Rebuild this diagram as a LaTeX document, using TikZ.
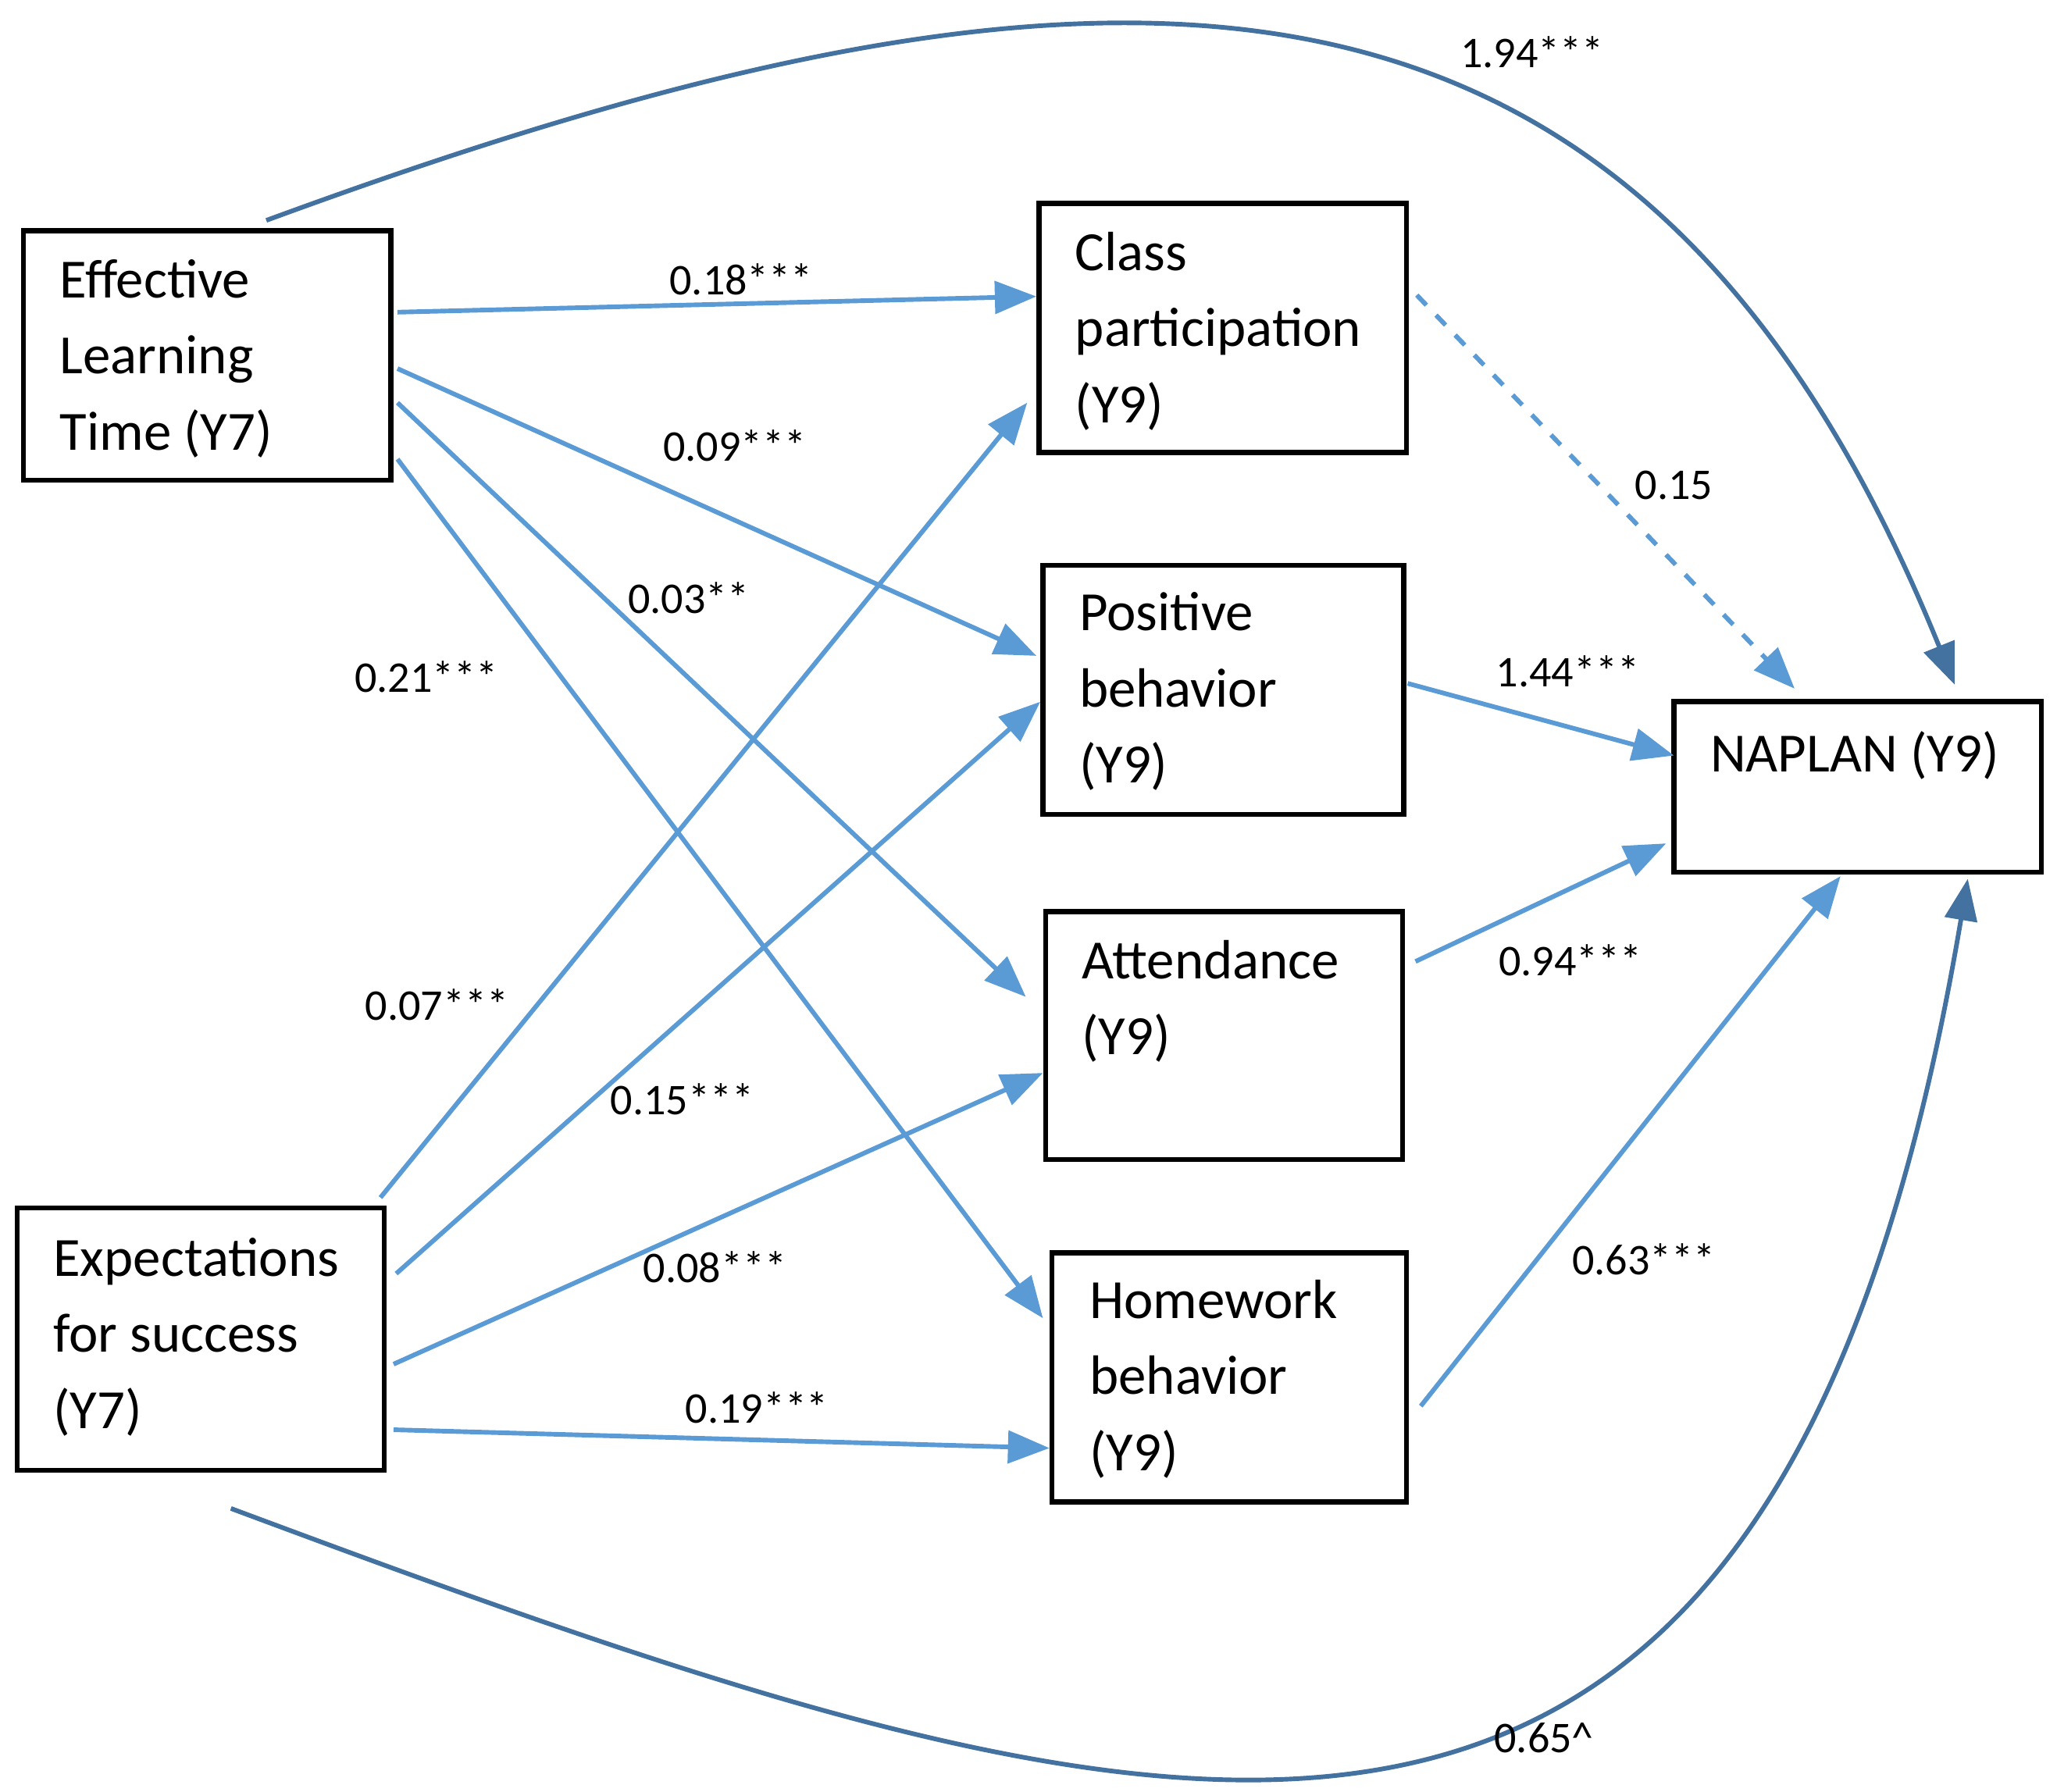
\documentclass[tikz,border=0pt]{standalone}
\usepackage{fontspec}
\setmainfont{Carlito}
\usetikzlibrary{arrows.meta}
\definecolor{lb}{RGB}{91,155,213}
\definecolor{db}{RGB}{68,114,160}
\begin{document}
\begin{tikzpicture}[x=0.01cm,y=-0.01cm,
  txt/.style={anchor=north west,align=left,font=\fontsize{12}{16.5}\selectfont,inner sep=0pt},
  ar/.style={lb,line width=1pt,-{Triangle[length=9pt,width=7pt]}},
  lab/.style={font=\fontsize{9.5}{11}\selectfont,inner sep=0pt}]
\useasboundingbox (0,0) rectangle (1568,1366);
% boxes
\draw[line width=1.1pt] (18,176) rectangle (298,366);
\draw[line width=1.1pt] (13,921) rectangle (293,1121);
\draw[line width=1.1pt] (792,155) rectangle (1072,345);
\draw[line width=1.1pt] (795,431) rectangle (1070,621);
\draw[line width=1.1pt] (797,695) rectangle (1069,884);
\draw[line width=1.1pt] (802,955) rectangle (1072,1145);
\draw[line width=1.1pt] (1276,535) rectangle (1556,665);
\node[txt] (elt) at (45,197) {Effective\\Learning\\Time (Y7)};
\node[txt] (es) at (40,943) {Expectations\\for success\\(Y7)};
\node[txt] (cp) at (819,176) {Class\\participation\\(Y9)};
\node[txt] (pb) at (822,451) {Positive\\behavior\\(Y9)};
\node[txt] (at) at (824,716) {Attendance\\(Y9)};
\node[txt] (hb) at (830,975) {Homework\\behavior\\(Y9)};
\node[txt] (np) at (1303,557) {NAPLAN (Y9)};
% endpoints
\coordinate (e1) at (303,238); \coordinate (e2) at (303,281);
\coordinate (e3) at (303,307); \coordinate (e4) at (303,350);
\coordinate (s1) at (290,913); \coordinate (s2) at (302,971);
\coordinate (s3) at (300,1040); \coordinate (s4) at (300,1090);
\coordinate (cpA) at (790,226); \coordinate (cpB) at (783,307);
\coordinate (pbA) at (790,500); \coordinate (pbB) at (793,535);
\coordinate (atA) at (782,760); \coordinate (atB) at (795,818);
\coordinate (hbA) at (795,1005); \coordinate (hbB) at (800,1104);
\coordinate (cpo) at (1080,225); \coordinate (pbo) at (1073,521);
\coordinate (ato) at (1079,733); \coordinate (hbo) at (1083,1072);
\coordinate (n1) at (1368,525); \coordinate (n2) at (1276,576);
\coordinate (n3) at (1270,643); \coordinate (n4) at (1403,668);
\coordinate (topS) at (203,168); \coordinate (topE) at (1490,522);
\coordinate (botS) at (176,1150); \coordinate (botE) at (1500,670);
\draw[ar] (e1) -- (cpA); \draw[ar] (e2) -- (pbA);
\draw[ar] (e3) -- (atA); \draw[ar] (e4) -- (hbA);
\draw[ar] (s1) -- (cpB); \draw[ar] (s2) -- (pbB);
\draw[ar] (s3) -- (atB); \draw[ar] (s4) -- (hbB);
\draw[ar,dashed] (cpo) -- (n1);
\draw[ar] (pbo) -- (n2); \draw[ar] (ato) -- (n3); \draw[ar] (hbo) -- (n4);
\draw[ar,db] (topS) .. controls (850,-70) and (1250,-70) .. (topE);
\draw[ar,db] (botS) .. controls (900,1420) and (1350,1560) .. (botE);
% labels
\node[lab] (l1) at (565,213) {0.18***};
\node[lab] (l2) at (560,340) {0.09***};
\node[lab] (l3) at (525,456) {0.03**};
\node[lab] (l4) at (325,516) {0.21***};
\node[lab] (l5) at (333,766) {0.07***};
\node[lab] (l6) at (520,838) {0.15***};
\node[lab] (l7) at (545,966) {0.08***};
\node[lab] (l8) at (577,1073) {0.19***};
\node[lab] (l9) at (1276,370) {0.15};
\node[lab] (l10) at (1195,512) {1.44***};
\node[lab] (l11) at (1197,732) {0.94***};
\node[lab] (l12) at (1253,960) {0.63***};
\node[lab] (l13) at (1168,40) {1.94***};
\node[lab] (l14) at (1177,1325) {0.65\textasciicircum};
\end{tikzpicture}
\end{document}
